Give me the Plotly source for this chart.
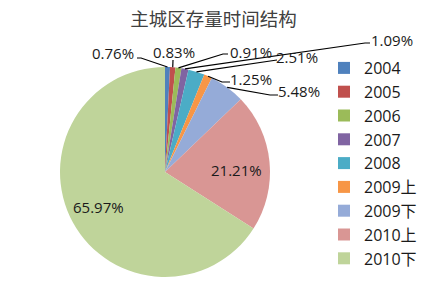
import math
import plotly.graph_objects as go

W, H = 427, 300

categories = ["2004", "2005", "2006", "2007", "2008", "2009上", "2009下", "2010上", "2010下"]
values = [0.76, 0.83, 0.91, 1.09, 2.51, 1.25, 5.48, 21.21, 65.97]
labels_txt = ["0.76%", "0.83%", "0.91%", "1.09%", "2.51%", "1.25%", "5.48%", "21.21%", "65.97%"]
colors = ["#4F81BD", "#C0504D", "#9BBB59", "#8064A2", "#4BACC6", "#F79646",
          "#95ABD8", "#D99694", "#BFD49A"]

# layout: label centres (px) and leader-line elbows (px), None = inside label
label_pos = [(113, 53), (174, 52), (251, 52), (392, 40), (297, 57), (251, 79), (299, 91), (237, 170), (98, 207)]
leader_pts = [[(137, 58), (141, 58)], [(173, 60)], [(228, 54), (223, 54)], [(370, 43), (365, 43)],
              [(277, 60)], [(230, 82), (222, 82)], [(278, 95), (270, 95)], None, None]

cx, cy, R = 165, 172, 105
FONT = "Open Sans, Noto Sans CJK SC, sans-serif"

def px(x):
    return x / W

def py(y):
    return 1 - y / H

fig = go.Figure(go.Pie(
    labels=categories, values=values, sort=False, direction="clockwise", rotation=0,
    marker=dict(colors=colors, line=dict(width=0)), textinfo="none", hoverinfo="label+percent",
    domain=dict(x=[px(cx - R), px(cx + R)], y=[py(cy + R), py(cy - R)]),
))

total = sum(values)
cum = 0
shapes = []
annotations = []
for v, txt, lp, lead in zip(values, labels_txt, label_pos, leader_pts):
    mid = (cum + v / 2) / total * 2 * math.pi
    cum += v
    annotations.append(dict(x=px(lp[0]), y=py(lp[1]), xref="paper", yref="paper", text=txt,
                            xanchor="center", yanchor="middle",
                            showarrow=False, font=dict(size=15, color="#1a1a1a", family=FONT)))
    if lead:
        ex, ey = cx + R * math.sin(mid), cy - R * math.cos(mid)
        pts = lead + [(ex, ey)]
        path = "M " + " L ".join(f"{px(x):.5f},{py(y):.5f}" for x, y in pts)
        shapes.append(dict(type="path", path=path, xref="paper", yref="paper",
                           line=dict(color="black", width=1.2)))

fig.update_layout(
    width=W, height=H, margin=dict(l=0, r=0, t=0, b=0, autoexpand=False),
    paper_bgcolor="white", plot_bgcolor="white",
    title=dict(text="主城区存量时间结构", x=0.5, xanchor="center", y=py(20), yanchor="middle",
               xref="container", yref="container",
               font=dict(size=18.5, color="#404040", family="Noto Sans CJK SC, sans-serif")),
    legend=dict(x=px(324), xanchor="left", y=py(51), yanchor="top", xref="container", yref="container",
                maxheight=1, font=dict(size=16, color="#1a1a1a", family=FONT), traceorder="normal"),
    shapes=shapes, annotations=annotations,
)

fig.write_html("out.html")
